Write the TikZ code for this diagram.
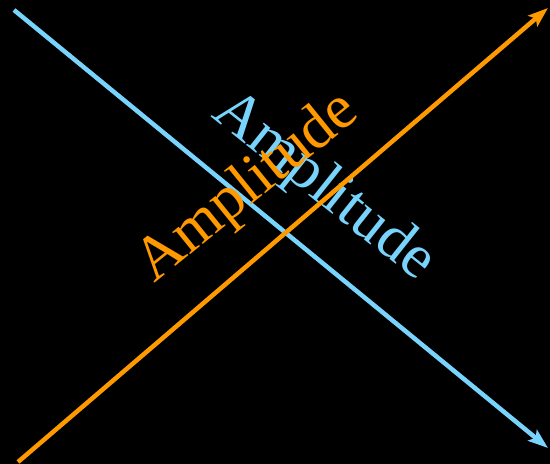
\documentclass[tikz,border=0pt]{standalone}
\usepackage{fontspec}
\setmainfont{Liberation Serif}
\usetikzlibrary{arrows.meta, calc}
\definecolor{ampblue}{HTML}{78D4FC}
\definecolor{amporange}{HTML}{FF9900}
\tikzset{
  axisline/.style={line width=4.5pt, -{Stealth[length=20pt, width=14pt, inset=4pt]}},
  amplabel/.style={font=\fontsize{62}{62}\selectfont, anchor=base, inner sep=0pt},
}

\begin{document}
\begin{tikzpicture}[x=1pt, y=1pt]
  \fill[black] (0,0) rectangle (550,464);
  \useasboundingbox (0,0) rectangle (550,464);
  \coordinate (bs) at (14,454);
  \coordinate (be) at (548,16);
  \coordinate (os) at (18,2);
  \coordinate (oe) at (548,456);
  % blue line and its label
  \draw[axisline, ampblue] (bs) -- (be) coordinate[pos=0.51] (bm);
  \node[amplabel, text=ampblue, rotate=-38.5] (bluelab) at ($(bm)!44pt!90:(be)$) {Amplitude};
  % orange line and its label
  \draw[axisline, amporange] (os) -- (oe) coordinate[pos=0.505] (om);
  \node[amplabel, text=amporange, rotate=39] (orangelab) at ($(om)!43pt!90:(oe)$) {Amplitude};
\end{tikzpicture}
\end{document}
